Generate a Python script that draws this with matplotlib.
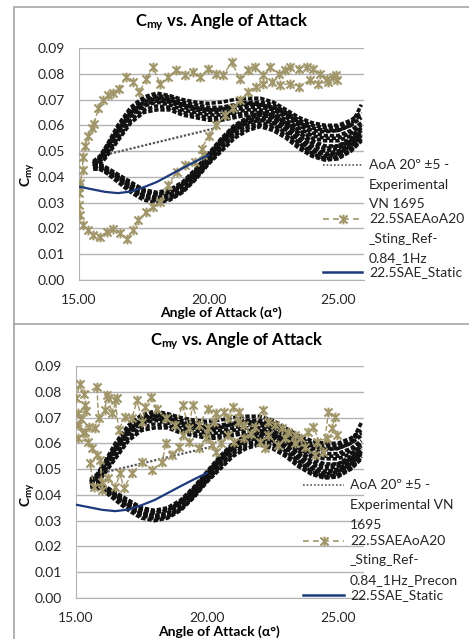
import matplotlib
matplotlib.use("Agg")
import matplotlib.pyplot as plt
from matplotlib.lines import Line2D
from matplotlib.patches import Rectangle
from matplotlib.path import Path

plt.rcParams['font.family'] = ['Lato', 'DejaVu Sans']
plt.rcParams['mathtext.fontset'] = 'custom'
plt.rcParams['mathtext.rm'] = 'Lato'
plt.rcParams['mathtext.bf'] = 'Lato:bold'

W, H = 469, 639

# experimental AoA 20 +-5 cycles (upper and lower branch of each loop)
EXP_AOA = [15.55, 15.8, 16.0, 16.5, 17.0, 17.5, 18.0, 18.5, 19.0, 19.5, 20.0,
           20.5, 21.0, 21.5, 22.0, 22.5, 23.0, 23.5, 24.0, 24.5, 25.0, 25.5, 25.9]
EXP_UPPER = [
    [0.0450, 0.0470, 0.050, 0.059, 0.066, 0.070, 0.0715, 0.071, 0.069, 0.068, 0.067, 0.067, 0.068, 0.069, 0.069, 0.068, 0.065, 0.062, 0.060, 0.059, 0.059, 0.061, 0.064],
    [0.0440, 0.0460, 0.049, 0.057, 0.064, 0.068, 0.0695, 0.069, 0.067, 0.066, 0.065, 0.065, 0.066, 0.067, 0.067, 0.066, 0.063, 0.060, 0.057, 0.056, 0.056, 0.058, 0.061],
    [0.0450, 0.0460, 0.048, 0.055, 0.062, 0.066, 0.0675, 0.067, 0.065, 0.064, 0.063, 0.063, 0.064, 0.065, 0.065, 0.064, 0.061, 0.058, 0.055, 0.054, 0.054, 0.056, 0.059],
    [0.0460, 0.0480, 0.051, 0.058, 0.065, 0.069, 0.0705, 0.0695, 0.068, 0.0665, 0.066, 0.066, 0.0675, 0.0685, 0.068, 0.0665, 0.064, 0.061, 0.058, 0.0575, 0.058, 0.060, 0.063],
    [0.0440, 0.0450, 0.047, 0.054, 0.061, 0.065, 0.066, 0.066, 0.064, 0.063, 0.062, 0.062, 0.063, 0.064, 0.064, 0.063, 0.060, 0.057, 0.054, 0.052, 0.052, 0.054, 0.057],
    [0.0450, 0.0470, 0.050, 0.058, 0.065, 0.0695, 0.071, 0.070, 0.068, 0.067, 0.066, 0.0665, 0.0675, 0.068, 0.068, 0.067, 0.0645, 0.061, 0.059, 0.058, 0.058, 0.060, 0.068],
    [0.0455, 0.0475, 0.051, 0.060, 0.067, 0.071, 0.0725, 0.0715, 0.070, 0.069, 0.0685, 0.069, 0.070, 0.0705, 0.0705, 0.069, 0.066, 0.063, 0.061, 0.060, 0.060, 0.062, 0.065],
    [0.0445, 0.0465, 0.0495, 0.0565, 0.0635, 0.0675, 0.069, 0.068, 0.066, 0.065, 0.064, 0.064, 0.065, 0.066, 0.066, 0.065, 0.062, 0.059, 0.056, 0.055, 0.055, 0.057, 0.060],
]
EXP_LOWER = [
    [0.0450, 0.0450, 0.044, 0.041, 0.038, 0.035, 0.034, 0.035, 0.038, 0.043, 0.049, 0.055, 0.060, 0.063, 0.065, 0.064, 0.061, 0.057, 0.053, 0.051, 0.052, 0.055, 0.059],
    [0.0440, 0.0440, 0.043, 0.040, 0.036, 0.033, 0.032, 0.033, 0.037, 0.042, 0.048, 0.054, 0.059, 0.062, 0.063, 0.062, 0.059, 0.055, 0.051, 0.049, 0.050, 0.053, 0.057],
    [0.0430, 0.0430, 0.042, 0.039, 0.035, 0.032, 0.031, 0.032, 0.035, 0.040, 0.046, 0.052, 0.057, 0.060, 0.061, 0.060, 0.057, 0.053, 0.049, 0.047, 0.048, 0.051, 0.055],
    [0.0440, 0.0430, 0.042, 0.038, 0.034, 0.031, 0.030, 0.031, 0.034, 0.039, 0.045, 0.050, 0.055, 0.058, 0.0595, 0.058, 0.055, 0.051, 0.048, 0.0465, 0.047, 0.050, 0.054],
    [0.0450, 0.0440, 0.043, 0.040, 0.037, 0.034, 0.033, 0.034, 0.037, 0.041, 0.047, 0.053, 0.058, 0.061, 0.062, 0.061, 0.058, 0.054, 0.050, 0.048, 0.049, 0.052, 0.056],
    [0.0440, 0.0440, 0.043, 0.040, 0.036, 0.033, 0.0315, 0.0325, 0.036, 0.0415, 0.0475, 0.0535, 0.0585, 0.0615, 0.0625, 0.0615, 0.0585, 0.0545, 0.0505, 0.0485, 0.0495, 0.0525, 0.0565],
    [0.0445, 0.0445, 0.0435, 0.0405, 0.037, 0.0345, 0.0335, 0.034, 0.0375, 0.0425, 0.0485, 0.0545, 0.0595, 0.0625, 0.064, 0.063, 0.060, 0.056, 0.052, 0.050, 0.051, 0.054, 0.058],
    [0.0435, 0.0435, 0.0425, 0.0395, 0.0355, 0.0325, 0.0305, 0.0315, 0.0345, 0.0395, 0.0455, 0.051, 0.056, 0.059, 0.060, 0.059, 0.056, 0.052, 0.0485, 0.047, 0.0475, 0.0505, 0.0545],
]
EXP_LINK_AOA = [16.2, 20.3]
EXP_LINK_CMY = [0.049, 0.059]

# 22.5SAE static
STATIC_AOA = [15.0, 15.5, 16.0, 16.5, 17.0, 17.5, 18.0, 18.5, 19.0, 19.5, 20.0]
STATIC_CMY = [0.0362, 0.0352, 0.0342, 0.0337, 0.0343, 0.0360, 0.0380, 0.0407, 0.0434, 0.0460, 0.0485]

# 22.5SAEAoA20_Sting_Ref-0.84_1Hz
REF_AOA = [15.0, 15.04, 15.14, 15.14, 15.23, 15.36, 15.49, 15.58, 15.75, 15.94, 16.13, 16.3, 16.56,
           16.81, 17.1, 17.33, 17.59, 17.85, 18.13, 18.45, 18.75, 19.09, 19.39, 19.67, 19.99, 20.3,
           20.57, 20.9, 21.2, 21.54, 21.8, 22.1, 22.37, 22.7, 22.95, 23.15, 23.5, 23.8, 24.05, 24.3,
           24.56, 24.8, 24.95, 24.9, 24.6, 24.24, 23.9, 23.5, 23.15, 22.76, 22.44, 22.1, 21.83, 21.54,
           21.2, 20.96, 20.64, 20.3, 20.0, 19.74, 19.8, 19.48, 19.09, 18.77, 18.45, 18.13, 17.87, 17.59,
           17.29, 17.1, 16.84, 16.58, 16.32, 16.07, 15.81, 15.55, 15.36, 15.17, 15.04, 15.0, 15.0]
REF_CMY = [0.0362, 0.0375, 0.0426, 0.0478, 0.052, 0.056, 0.059, 0.0607, 0.0666, 0.0698, 0.0717, 0.0726, 0.074,
           0.0788, 0.0769, 0.073, 0.0778, 0.0825, 0.0762, 0.0788, 0.0814, 0.0797, 0.0807, 0.0788, 0.082, 0.080,
           0.0795, 0.0846, 0.0778, 0.0814, 0.0827, 0.0795, 0.0827, 0.080, 0.0814, 0.0827, 0.082, 0.0827, 0.082, 0.080,
           0.078, 0.0788, 0.0775, 0.0795, 0.0770, 0.0762, 0.0775, 0.075, 0.0762, 0.0756, 0.0769, 0.0762, 0.075, 0.073,
           0.0698, 0.0666, 0.064, 0.060, 0.056, 0.051, 0.0485, 0.0459, 0.0446, 0.042, 0.0368, 0.0304, 0.0284, 0.0265,
           0.0233, 0.0194, 0.0158, 0.0183, 0.0196, 0.0187, 0.0165, 0.0174, 0.0194, 0.0213, 0.0252, 0.029, 0.0336]

# 22.5SAEAoA20_Sting_Ref-0.84_1Hz_Precon
PRE_AOA = [15.67, 15.54, 15.8, 15.6, 15.45, 15.09, 15.35, 15.25, 15.09, 15.73, 15.5, 15.2, 15.09, 15.4, 15.35,
           15.0, 15.15, 15.3, 15.8, 15.86, 16.1, 16.18, 16.24, 16.37, 16.56, 16.5, 16.63, 16.88, 17.14, 17.33,
           17.53, 17.65, 17.85, 18.1, 18.42, 18.8, 19.07, 19.32, 19.45, 19.7, 20.03, 20.35, 20.28, 20.67, 20.8,
           20.99, 21.18, 21.24, 21.43, 21.82, 22.14, 22.33, 22.6, 22.85, 23.1, 23.36, 23.6, 23.87, 24.07, 24.45,
           24.64, 24.9, 24.77, 24.96, 24.58, 24.2, 24.13, 23.75, 23.36, 22.97, 22.72, 22.33, 22.2, 22.01, 21.7,
           21.43, 21.05, 20.8, 20.54, 20.35, 20.2, 20.03, 19.96, 19.7, 19.32, 19.07, 18.93, 18.68, 18.42, 18.3,
           17.91, 17.53, 17.14, 16.82, 16.69, 16.5, 16.24, 15.99, 15.92, 15.99]
PRE_CMY = [0.0431, 0.0522, 0.0554, 0.058, 0.0605, 0.0619, 0.0645, 0.064, 0.067, 0.0658, 0.0665, 0.0695, 0.0716, 0.0725, 0.0748,
           0.0774, 0.0832, 0.079, 0.0819, 0.0697, 0.0729, 0.0787, 0.0774, 0.0716, 0.0774, 0.0767, 0.0651, 0.0703, 0.0697, 0.0767,
           0.0683, 0.0741, 0.078, 0.0735, 0.0697, 0.067, 0.0748, 0.0658, 0.0748, 0.067, 0.0735, 0.0716, 0.0683, 0.0722, 0.0697,
           0.0741, 0.0683, 0.0722, 0.067, 0.0664, 0.0729, 0.0683, 0.067, 0.0658, 0.0645, 0.0632, 0.0619, 0.0645, 0.0664, 0.0567,
           0.0722, 0.0703, 0.0658, 0.0632, 0.0619, 0.0606, 0.0554, 0.0586, 0.060, 0.0619, 0.0593, 0.0632, 0.058, 0.0606, 0.0638,
           0.0619, 0.0606, 0.0632, 0.060, 0.0567, 0.0593, 0.0658, 0.0619, 0.058, 0.0606, 0.0632, 0.0586, 0.0554, 0.060, 0.0528,
           0.0496, 0.0528, 0.0483, 0.0425, 0.0483, 0.0431, 0.0464, 0.0451, 0.0535, 0.0419]

Y_TICKS = [0.00, 0.01, 0.02, 0.03, 0.04, 0.05, 0.06, 0.07, 0.08, 0.09]
X_TICKS = [15.0, 20.0, 25.0]

EXP_COLOR = '#111111'
STAR_COLOR = '#a0966a'
STATIC_COLOR = '#1c3a7c'
GRID_COLOR = '#b3b3b3'
# Excel style star: an X with a vertical bar through it
STAR = Path([(-1, -1), (1, 1), (-1, 1), (1, -1), (0, -1.2), (0, 1.2)],
            [Path.MOVETO, Path.LINETO, Path.MOVETO, Path.LINETO, Path.MOVETO, Path.LINETO])
STAR_KW = dict(marker=STAR, markersize=7, markeredgewidth=1.5, markerfacecolor='none',
               markeredgecolor=STAR_COLOR)


def fx(x):
    return x / W


def fy(y):
    return 1 - y / H


def draw_panel(fig, rect, ref_aoa, ref_cmy, title_xy, ylab_xy, xlab_xy, leg_x, leg_lines, leg_ys, z):
    ax = fig.add_axes(rect, zorder=z)
    ax.set_facecolor('none')
    for cyc in EXP_UPPER + EXP_LOWER:
        ax.plot(EXP_AOA, cyc, color=EXP_COLOR, lw=2.6, linestyle=(0, (1.2, 0.5)), zorder=2)
    ax.plot(EXP_LINK_AOA, EXP_LINK_CMY, color='#555555', lw=1.6, linestyle=(0, (1, 0.8)), zorder=2)
    ax.plot(ref_aoa, ref_cmy, color=STAR_COLOR, lw=1.0, linestyle='--', zorder=3, **STAR_KW)
    ax.plot(STATIC_AOA, STATIC_CMY, color=STATIC_COLOR, lw=1.6, zorder=4)

    ax.set_xlim(15, 26)
    ax.set_ylim(0, 0.09)
    ax.set_xticks(X_TICKS)
    ax.set_yticks(Y_TICKS)
    ax.set_xticklabels([f'{v:.2f}' for v in X_TICKS])
    ax.set_yticklabels([f'{v:.2f}' for v in Y_TICKS])
    ax.tick_params(length=0, pad=10, labelsize=10, colors='#262626')
    ax.grid(axis='y', color=GRID_COLOR, lw=1)
    ax.set_axisbelow(True)
    for s in ['top', 'right']:
        ax.spines[s].set_visible(False)
    for s in ['left', 'bottom']:
        ax.spines[s].set_color(GRID_COLOR)

    fig.text(fx(title_xy[0]), fy(title_xy[1]), r'$\mathbf{C_{my}}$ vs. Angle of Attack',
             ha='center', va='center', fontsize=12, fontweight='bold', zorder=z)
    fig.text(fx(ylab_xy[0]), fy(ylab_xy[1]), r'$\mathbf{C_{my}}$', rotation=90,
             ha='center', va='center', fontsize=10, fontweight='bold', zorder=z)
    fig.text(fx(xlab_xy[0]), fy(xlab_xy[1]), 'Angle of Attack (α°)', ha='center', va='center',
             fontsize=10, fontweight='bold', zorder=z)

    # legend drawn by hand, Excel style (handle aligned to first line)
    h0, h1 = leg_x[0], leg_x[1]
    styles = [dict(color='#595959', lw=1.2, linestyle=(0, (1, 1.2))),
              dict(color=STAR_COLOR, lw=1.2, linestyle=(0, (3.5, 2.5))),
              dict(color=STATIC_COLOR, lw=1.8)]
    for i, st in enumerate(styles):
        yy = leg_ys[i][0]
        fig.add_artist(Line2D([fx(h0), fx(h1)], [fy(yy), fy(yy)], transform=fig.transFigure,
                              zorder=z + 0.5, **st))
        if i == 1:
            fig.add_artist(Line2D([fx((h0 + h1) / 2)], [fy(yy)], transform=fig.transFigure,
                                  linestyle='none', zorder=z + 0.5, **STAR_KW))
        for line, ly in zip(leg_lines[i], leg_ys[i]):
            fig.text(fx(leg_x[2]), fy(ly), line, ha='left', va='center', fontsize=10,
                     color='#262626', zorder=z + 0.5)
    return ax


fig = plt.figure(figsize=(W / 100, H / 100), dpi=100)

# panel frames
fig.add_artist(Rectangle((fx(14), fy(330)), fx(480 - 14), 323 / H, transform=fig.transFigure,
                         facecolor='white', edgecolor='#a6a6a6', lw=1.2, zorder=0))
fig.add_artist(Rectangle((fx(14), fy(650)), fx(480 - 14), 326 / H, transform=fig.transFigure,
                         facecolor='white', edgecolor='#a6a6a6', lw=1.2, zorder=5))

draw_panel(fig, [fx(79), fy(280), fx(364 - 79), 232 / H], REF_AOA, REF_CMY,
           (222, 22), (28, 175), (221, 313), (323, 362, 369),
           [['AoA 20º ±5 -', 'Experimental', 'VN 1695'],
            ['22.5SAEAoA20', '_Sting_Ref-', '0.84_1Hz'],
            ['22.5SAE_Static']],
           [[165, 185, 204], [219, 239, 258], [272]], 1)

draw_panel(fig, [fx(76), fy(598), fx(364 - 76), 232 / H], PRE_AOA, PRE_CMY,
           (237, 341), (28, 495), (219, 632), (303, 344, 350),
           [['AoA 20º ±5 -', 'Experimental VN', '1695'],
            ['22.5SAEAoA20', '_Sting_Ref-', '0.84_1Hz_Precon'],
            ['22.5SAE_Static']],
           [[485, 505, 525], [541, 560, 580], [595]], 6)

fig.savefig('out.png', dpi=100)
